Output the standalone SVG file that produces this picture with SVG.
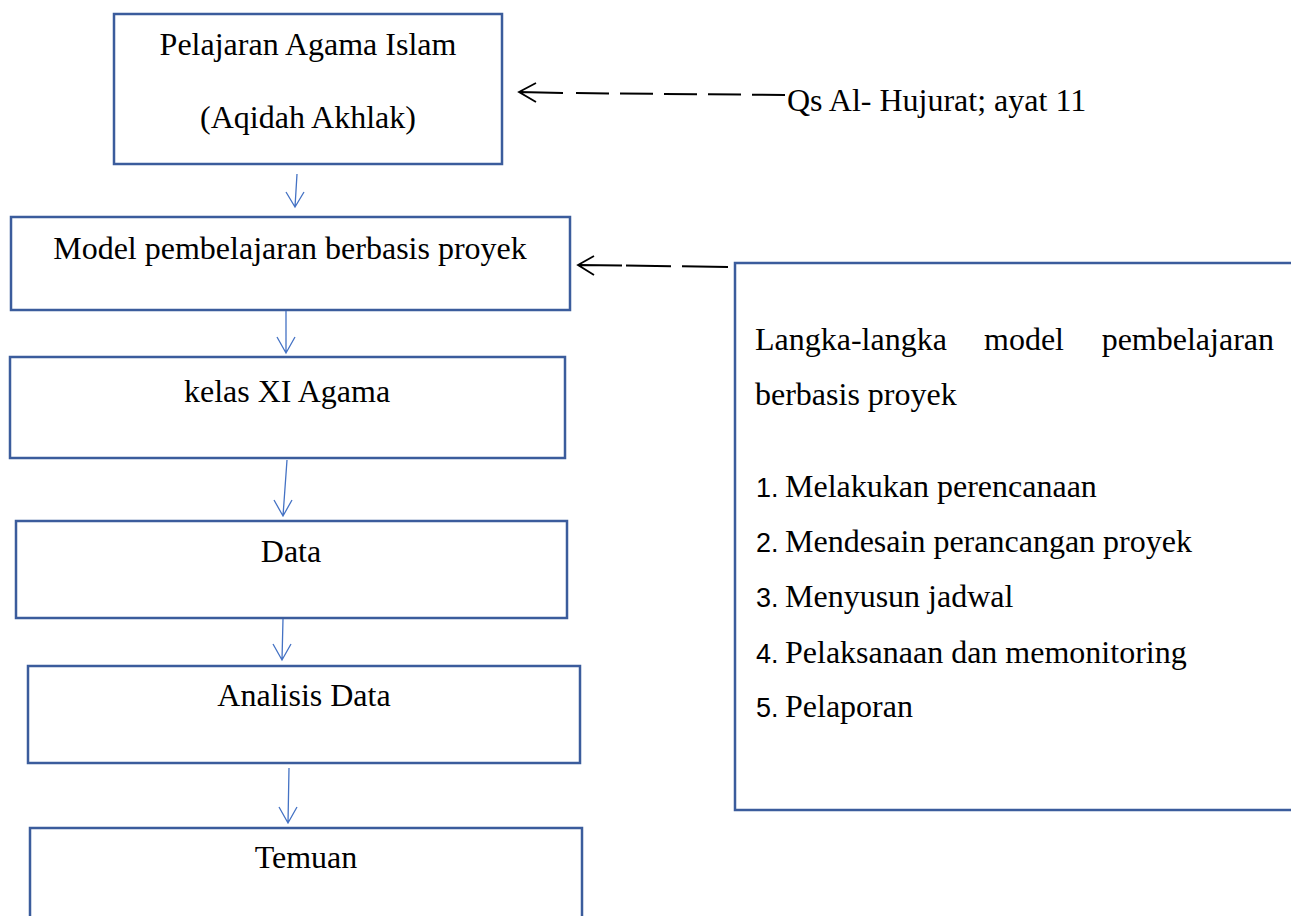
<svg xmlns="http://www.w3.org/2000/svg" width="1291" height="916" viewBox="0 0 1291 916">
  <style>
    .box { fill: #ffffff; stroke: #3B5C9C; stroke-width: 2.5; }
    .t { font-family: "Liberation Serif", "Times New Roman", serif; font-size: 32px; fill: #000000; }
    .c { text-anchor: middle; }
    .num { font-family: "Liberation Sans", Arial, sans-serif; font-size: 27px; fill: #000000; }
    .flow { fill: none; stroke: #4472C4; stroke-width: 1.3; }
    .dash { fill: none; stroke: #000000; stroke-width: 2; stroke-dasharray: 33 11; }
    .solid { fill: none; stroke: #000000; stroke-width: 1.8; }
  </style>
  <rect width="1291" height="916" fill="#ffffff"/>

  <g id="node-pelajaran">
    <rect class="box" x="114" y="14" width="388" height="150"/>
    <text class="t c" x="308" y="55">Pelajaran Agama Islam</text>
    <text class="t c" x="308" y="128">(Aqidah Akhlak)</text>
  </g>

  <g id="node-model">
    <rect class="box" x="11" y="217" width="559" height="93"/>
    <text class="t c" x="290" y="259">Model pembelajaran berbasis proyek</text>
  </g>

  <g id="node-kelas">
    <rect class="box" x="10" y="357" width="555" height="101"/>
    <text class="t c" x="287" y="402">kelas XI Agama</text>
  </g>

  <g id="node-data">
    <rect class="box" x="16" y="521" width="551" height="97"/>
    <text class="t c" x="291" y="562">Data</text>
  </g>

  <g id="node-analisis">
    <rect class="box" x="28" y="666" width="552" height="97"/>
    <text class="t c" x="304" y="706">Analisis Data</text>
  </g>

  <g id="node-temuan">
    <rect class="box" x="30" y="828" width="552" height="110"/>
    <text class="t c" x="306" y="868">Temuan</text>
  </g>

  <g id="node-qs">
    <text class="t" x="787" y="111">Qs Al- Hujurat; ayat 11</text>
  </g>

  <g id="node-langkah">
    <rect class="box" x="735" y="263" width="580" height="547"/>
    <text class="t" x="755" y="350">Langka-langka</text>
    <text class="t" x="984" y="350">model</text>
    <text class="t" x="1274" y="350" text-anchor="end">pembelajaran</text>
    <text class="t" x="755" y="405">berbasis proyek</text>
    <text class="num" x="756" y="497">1.</text>
    <text class="t" x="785" y="497">Melakukan perencanaan</text>
    <text class="num" x="756" y="552">2.</text>
    <text class="t" x="785" y="552">Mendesain perancangan proyek</text>
    <text class="num" x="756" y="607">3.</text>
    <text class="t" x="785" y="607">Menyusun jadwal</text>
    <text class="num" x="756" y="663">4.</text>
    <text class="t" x="785" y="663">Pelaksanaan dan memonitoring</text>
    <text class="num" x="756" y="717">5.</text>
    <text class="t" x="785" y="717">Pelaporan</text>
  </g>

  <g id="connectors">
    <!-- vertical flow arrows -->
    <path class="flow" d="M297 174 L295 207 M286 192 L295 207 L304 192"/>
    <path class="flow" d="M286 311 L286 353 M277 337 L286 353 L295 337"/>
    <path class="flow" d="M287 460 L283 516 M274 500 L283 516 L292 500"/>
    <path class="flow" d="M283 619 L282 660 M273 644 L282 660 L291 644"/>
    <path class="flow" d="M289 768 L288 823 M279 807 L288 823 L297 807"/>
    <!-- dashed arrow from Qs text -->
    <path class="dash" d="M785 95 L567 93"/>
    <path class="solid" d="M563 93 L519 92 M536 83 L519 92 L536 102"/>
    <!-- dashed arrow from Langkah box -->
    <path class="dash" d="M728 267 L626 265.5" style="stroke-dasharray: 46 11"/>
    <path class="solid" d="M622 265.5 L578 265 M594 256 L578 265 L594 275"/>
  </g>
</svg>
